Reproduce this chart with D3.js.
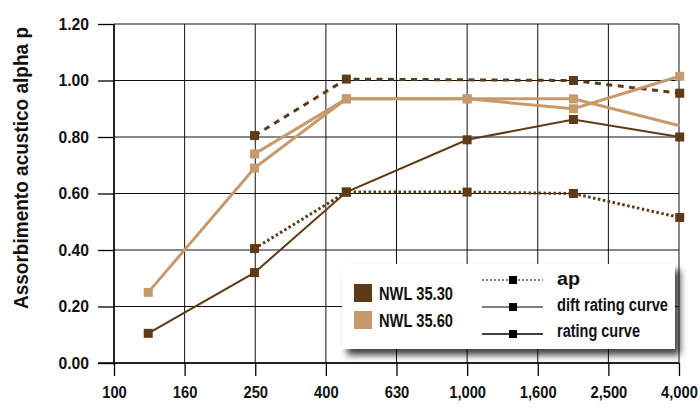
<!DOCTYPE html>
<html><head><meta charset="utf-8">
<script src="https://cdn.jsdelivr.net/npm/d3@7"></script>
<style>
html,body{margin:0;padding:0;background:#fff;}
svg{display:block;}
text{font-family:"Liberation Sans",Arial,sans-serif;font-weight:bold;fill:#111;}
</style></head>
<body>
<svg id="chart" width="700" height="408"></svg>
<script>
// ---- data ----
const tickLabels = ["100","160","250","400","630","1,000","1,600","2,500","4,000"];
const yTickValues = [0, 0.2, 0.4, 0.6, 0.8, 1.0, 1.2];
const freqs = [125, 250, 455, 1000, 2000, 4000];
const nwl3530Ap     = [null, 0.405, 0.605, 0.605, 0.60, 0.515];
const nwl3530Dift   = [null, 0.805, 1.005, null, 1.00, 0.955];
const nwl3530Rating = [0.105, 0.32, 0.605, 0.79, 0.862, 0.80];
const nwl3560Dift   = [null, 0.74, 0.935, 0.935, 0.935, 0.84];
const nwl3560DiftMarkers = [false, true, true, true, true, false];
const nwl3560Rating = [0.25, 0.69, 0.935, 0.935, 0.90, 1.015];
const groupNames = ["NWL 35.30", "NWL 35.60"];
const styleNames = ["ap", "dift rating curve", "rating curve"];
const yTitle = "Assorbimento acustico alpha p";

const DARK = "#5E3A16", LIGHT = "#C69A6B";

const svg = d3.select("#chart");
const L = 114, R = 679, T = 24, B = 363;
const x = d3.scaleLog().domain([100, Math.pow(10, 3.6)]).range([L, R]);
const y = d3.scaleLinear().domain([0, 1.2]).range([B, T]);
const xTickPos = tickLabels.map((_, i) => Math.pow(10, 2 + 0.2 * i));

function fit(sel, len) { return sel.attr("textLength", len).attr("lengthAdjust", "spacingAndGlyphs"); }

// grid
const grid = svg.append("g");
grid.selectAll("line.v").data(xTickPos).join("line")
  .attr("x1", d => x(d)).attr("x2", d => x(d)).attr("y1", T).attr("y2", B)
  .attr("stroke", "#111").attr("stroke-width", 1);
grid.selectAll("line.h").data(yTickValues).join("line")
  .attr("x1", L).attr("x2", R).attr("y1", d => y(d)).attr("y2", d => y(d))
  .attr("stroke", "#111").attr("stroke-width", 1);

// axes
const yAxis = d3.axisLeft(y).tickValues(yTickValues).tickFormat(d3.format(".2f")).tickSize(16).tickPadding(9);
const gy = svg.append("g").attr("transform", `translate(${L},0)`).call(yAxis);
const xAxis = d3.axisBottom(x).tickValues(xTickPos).tickFormat((d, i) => tickLabels[i]).tickSize(13).tickPadding(7);
const gx = svg.append("g").attr("transform", `translate(0,${B})`).call(xAxis);
[gx, gy].forEach(g => {
  g.select(".domain").remove();
  g.selectAll(".tick line").attr("stroke", "#000").attr("stroke-width", 1.3);
  g.selectAll("text").attr("font-size", 16)
    .style("font-family", '"Liberation Sans",Arial,sans-serif').style("font-weight", "bold").attr("fill", "#111");
});
gx.selectAll("text").attr("dy", "0.95em").each(function () {
  const t = d3.select(this); const w = this.getComputedTextLength(); fit(t, w * 0.92);
});
gy.selectAll("text").each(function () {
  const t = d3.select(this); const w = this.getComputedTextLength(); fit(t, w * 0.98);
});
svg.append("line").attr("x1", L).attr("x2", L).attr("y1", T).attr("y2", B + 2).attr("stroke", "#000").attr("stroke-width", 1.5);
svg.append("line").attr("x1", L - 16).attr("x2", R).attr("y1", B).attr("y2", B).attr("stroke", "#000").attr("stroke-width", 1.5);

// y title
fit(svg.append("text").attr("transform", `translate(28,168) rotate(-90)`)
  .attr("text-anchor", "middle").attr("font-size", 20).text(yTitle), 282);

// series
function pts(vals) { return freqs.map((f, i) => ({ f, v: vals[i], i })).filter(d => d.v != null); }
const line = d3.line().x(d => x(d.f)).y(d => y(d.v));
function drawSeries(vals, color, width, dash, markerFlags) {
  const p = pts(vals);
  svg.append("path").datum(p).attr("d", line).attr("fill", "none")
    .attr("stroke", color).attr("stroke-width", width).attr("stroke-dasharray", dash || null);
  const m = markerFlags ? p.filter(d => markerFlags[d.i]) : p;
  svg.append("g").selectAll("rect").data(m).join("rect")
    .attr("x", d => x(d.f) - 4.5).attr("y", d => y(d.v) - 4.5)
    .attr("width", 9).attr("height", 9).attr("fill", color);
}
drawSeries(nwl3530Ap, DARK, 3, "2.5,2.5");
drawSeries(nwl3530Dift, DARK, 3, "6,5.5");
drawSeries(nwl3530Rating, DARK, 2);
drawSeries(nwl3560Dift, LIGHT, 3, null, nwl3560DiftMarkers);
drawSeries(nwl3560Rating, LIGHT, 3);

// legend
const defs = svg.append("defs");
const f = defs.append("filter").attr("id", "shadow").attr("x", "-10%").attr("y", "-20%").attr("width", "130%").attr("height", "160%");
f.append("feDropShadow").attr("dx", 5).attr("dy", 6).attr("stdDeviation", 3.5)
  .attr("flood-color", "#000").attr("flood-opacity", 0.75);
const lg = svg.append("g");
lg.append("rect").attr("x", 342).attr("y", 264).attr("width", 333).attr("height", 85)
  .attr("fill", "#fff").attr("filter", "url(#shadow)");
const sw = [DARK, LIGHT];
groupNames.forEach((n, i) => {
  lg.append("rect").attr("x", 354).attr("y", 284 + i * 27).attr("width", 18).attr("height", 18).attr("fill", sw[i]);
  fit(lg.append("text").attr("x", 379).attr("y", 300 + i * 27).attr("font-size", 19).text(n), 74);
});
const lStyles = [{ w: 1, d: "2,2" }, { w: 1, d: null }, { w: 1.5, d: null }];
const styleWidths = [23, 111, 83];
styleNames.forEach((n, i) => {
  const yy = 280 + i * 27;
  lg.append("line").attr("x1", 482).attr("x2", 543).attr("y1", yy).attr("y2", yy)
    .attr("stroke", "#000").attr("stroke-width", lStyles[i].w).attr("stroke-dasharray", lStyles[i].d);
  lg.append("rect").attr("x", 509).attr("y", yy - 4).attr("width", 8).attr("height", 8).attr("fill", "#000");
  fit(lg.append("text").attr("x", 557).attr("y", yy + 5 - i).attr("font-size", 18).text(n), styleWidths[i]);
});
</script>
</body></html>
